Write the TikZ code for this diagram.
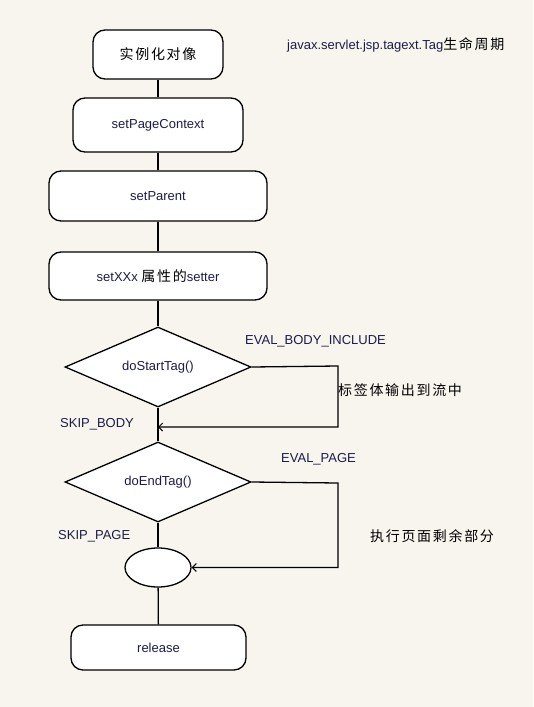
\documentclass[tikz,border=0pt]{standalone}
\usepackage{fontspec}
\setmainfont{Liberation Sans}
\newfontfamily\cjk[LetterSpace=12]{Noto Sans CJK SC}
\usetikzlibrary{shapes.geometric,arrows.meta}
\definecolor{bg}{HTML}{F8F5EE}
\definecolor{txt}{HTML}{1C1C4A}
\tikzset{
  x=1pt,y=-1pt,
  line/.style={draw=black,line width=1.3pt},
  rbox/.style={line,fill=white,rounded corners=12pt,inner sep=0pt,font=\fontsize{13}{15}\selectfont\color{txt}},
  dia/.style={line,fill=white,diamond,inner sep=0pt,minimum width=186pt,minimum height=80pt},
  lbl/.style={inner sep=0pt,font=\fontsize{13}{15}\selectfont\color{txt}},
  clbl/.style={inner sep=0pt,font=\cjk\fontsize{14}{16}\selectfont\color{black}},
  arr/.style={line,-{Straight Barb[length=4pt,width=8pt,line width=1pt]}}
}
\begin{document}
\begin{tikzpicture}
\useasboundingbox[fill=bg] (0,0) rectangle (533,707);
% boxes
\node[rbox,minimum width=130pt,minimum height=49pt] (b1) at (158,54.5) {\cjk\fontsize{14}{16}\selectfont\color{black}实例化对像};
\node[rbox,minimum width=170pt,minimum height=54pt] (b2) at (158,125) {setPageContext};
\node[rbox,minimum width=218pt,minimum height=50pt] (b3) at (158,196) {setParent};
\node[rbox,minimum width=218pt,minimum height=48pt] (b4) at (158,276) {setXXx {\cjk\fontsize{14}{16}\selectfont\color{black}属性的}setter};
\node[dia] (d1) at (158,367) {};
\node[lbl] (t1) at (d1.center) {doStartTag()};
\node[dia] (d2) at (158,482) {};
\node[lbl] (t2) at (d2.center) {doEndTag()};
\node[line,fill=white,ellipse,minimum width=66pt,minimum height=39pt,inner sep=0pt] (e) at (158,567.5) {};
\node[rbox,minimum width=175pt,minimum height=45pt] (rel) at (158.5,647.5) {release};
% connectors
\draw[line] (b1) -- (b2);
\draw[line] (b2) -- (b3);
\draw[line] (b3) -- (b4);
\draw[line] (b4) -- (d1);
\draw[line] (d1) -- (d2);
\draw[line] (d2) -- (e);
\draw[line] (e) -- (rel);
\coordinate (j1) at (158,427);
\coordinate (c1) at (338,366);
\coordinate (c2) at (338,483);
\draw[arr] (d1.east) -- (c1) -- (c1 |- j1) -- (j1);
\draw[arr] (d2.east) -- (c2) -- (c2 |- e.east) -- (e.east);
% labels
\node[lbl,anchor=west] (l1) at (245,341) {EVAL\_BODY\_INCLUDE};
\node[clbl,anchor=west] (l2) at (338,390) {标签体输出到流中};
\node[lbl,anchor=west] (l3) at (60,424) {SKIP\_BODY};
\node[lbl,anchor=west] (l4) at (281,459) {EVAL\_PAGE};
\node[clbl,anchor=west] (l5) at (370,536) {执行页面剩余部分};
\node[lbl,anchor=west] (l6) at (58,536) {SKIP\_PAGE};
\node[lbl,anchor=west] (title) at (287,45) {javax.servlet.jsp.tagext.Tag{\cjk\fontsize{14}{16}\selectfont\color{black}生命周期}};
\end{tikzpicture}
\end{document}
